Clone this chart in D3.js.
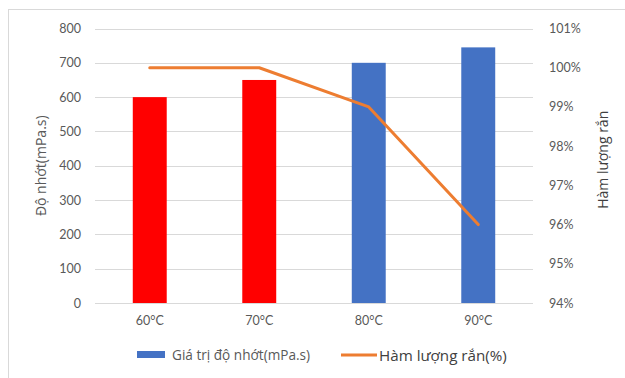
<!DOCTYPE html>
<html>
<head>
<meta charset="utf-8">
<script src="https://cdn.jsdelivr.net/npm/d3@7"></script>
<style>
  html, body { margin: 0; padding: 0; background: #fff; }
  svg { display: block; font-family: Lato, "Open Sans", "Liberation Sans", sans-serif; }
</style>
</head>
<body>
<svg id="chart" width="625" height="378"></svg>
<script>
// Temperatures and measured values
const categories = ["60°C", "70°C", "80°C", "90°C"];
const viscosity = [600, 650, 700, 745];          // mPa.s
const solidContent = [1.00, 1.00, 0.99, 0.96];   // fraction
const barColors = ["#FF0000", "#FF0000", "#4472C4", "#4472C4"];
const leftTicks = [0, 100, 200, 300, 400, 500, 600, 700, 800];
const rightTicks = [0.94, 0.95, 0.96, 0.97, 0.98, 0.99, 1.00, 1.01];

const svg = d3.select("#chart");
const textColor = "#595959";
const gridColor = "#d9d9d9";

// Chart frame
svg.append("rect")
  .attr("x", 8.5).attr("y", 9.5)
  .attr("width", 640).attr("height", 400)
  .attr("fill", "#fff")
  .attr("stroke", "#d9d9d9").attr("stroke-width", 1);

const plot = { left: 95, right: 533, top: 28.5, bottom: 303 };

const x = d3.scaleBand()
  .domain(categories)
  .range([plot.left, plot.right])
  .paddingInner(0.69).paddingOuter(0.345);

const yLeft = d3.scaleLinear().domain([0, 800]).range([plot.bottom, plot.top]);
const yRight = d3.scaleLinear().domain([0.94, 1.01]).range([plot.bottom, plot.top]);

// Gridlines
svg.append("g")
  .selectAll("line")
  .data(leftTicks)
  .join("line")
  .attr("x1", plot.left).attr("x2", plot.right)
  .attr("y1", d => Math.round(yLeft(d)) + 0.5)
  .attr("y2", d => Math.round(yLeft(d)) + 0.5)
  .attr("stroke", gridColor).attr("stroke-width", 1);

// Left axis labels
const leftAxis = svg.append("g")
  .attr("transform", `translate(${plot.left - 14},0)`)
  .call(d3.axisLeft(yLeft).tickValues(leftTicks).tickSize(0).tickPadding(0));
leftAxis.select(".domain").remove();
leftAxis.selectAll("text")
  .attr("fill", textColor).attr("font-size", 12.5)
  .attr("font-family", "Lato, 'Open Sans', sans-serif");

// Right axis labels
const rightAxis = svg.append("g")
  .attr("transform", `translate(${plot.right + 16},0)`)
  .call(d3.axisRight(yRight).tickValues(rightTicks).tickSize(0).tickPadding(0)
    .tickFormat(d3.format(".0%")));
rightAxis.select(".domain").remove();
rightAxis.selectAll("text")
  .attr("fill", textColor).attr("font-size", 12.5)
  .attr("font-family", "Lato, 'Open Sans', sans-serif");

// Bars
svg.append("g")
  .selectAll("rect")
  .data(categories)
  .join("rect")
  .attr("x", d => x(d))
  .attr("width", x.bandwidth())
  .attr("y", (d, i) => yLeft(viscosity[i]))
  .attr("height", (d, i) => yLeft(0) - yLeft(viscosity[i]))
  .attr("fill", (d, i) => barColors[i]);

// Solid content line
const line = d3.line()
  .x((d, i) => x(categories[i]) + x.bandwidth() / 2)
  .y(d => yRight(d));
svg.append("path")
  .datum(solidContent)
  .attr("d", line)
  .attr("fill", "none")
  .attr("stroke", "#ED7D31")
  .attr("stroke-width", 3)
  .attr("stroke-linejoin", "round")
  .attr("stroke-linecap", "round");

// Category labels
const xAxis = svg.append("g")
  .attr("transform", `translate(0,${plot.bottom + 13})`)
  .call(d3.axisBottom(x).tickSize(0).tickPadding(0));
xAxis.select(".domain").remove();
xAxis.selectAll("text")
  .attr("fill", textColor).attr("font-size", 12.5)
  .attr("font-family", "Lato, 'Open Sans', sans-serif");

// Axis titles
svg.append("text")
  .attr("transform", `translate(46,${(plot.top + plot.bottom) / 2}) rotate(-90)`)
  .attr("text-anchor", "middle")
  .attr("fill", textColor).attr("font-size", 14)
  .attr("font-family", "'Open Sans', sans-serif")
  .text("Độ nhớt(mPa.s)");

svg.append("text")
  .attr("transform", `translate(608,${(plot.top + plot.bottom) / 2 - 6}) rotate(-90)`)
  .attr("text-anchor", "middle")
  .attr("fill", "#404040").attr("font-size", 14)
  .attr("font-family", "'Open Sans', sans-serif")
  .text("Hàm lượng rắn");

// Legend
const legend = svg.append("g");
legend.append("rect")
  .attr("x", 137).attr("y", 351).attr("width", 28).attr("height", 7)
  .attr("fill", "#4472C4");
legend.append("text")
  .attr("x", 172).attr("y", 360)
  .attr("fill", textColor).attr("font-size", 13.6)
  .attr("font-family", "'Open Sans', sans-serif")
  .text("Giá trị độ nhớt(mPa.s)");
legend.append("line")
  .attr("x1", 341).attr("x2", 377).attr("y1", 355).attr("y2", 355)
  .attr("stroke", "#ED7D31").attr("stroke-width", 3);
legend.append("text")
  .attr("x", 379).attr("y", 360.5)
  .attr("fill", "#404040").attr("font-size", 15.2)
  .attr("font-family", "'Open Sans', sans-serif")
  .text("Hàm lượng rắn(%)");
</script>
</body>
</html>
